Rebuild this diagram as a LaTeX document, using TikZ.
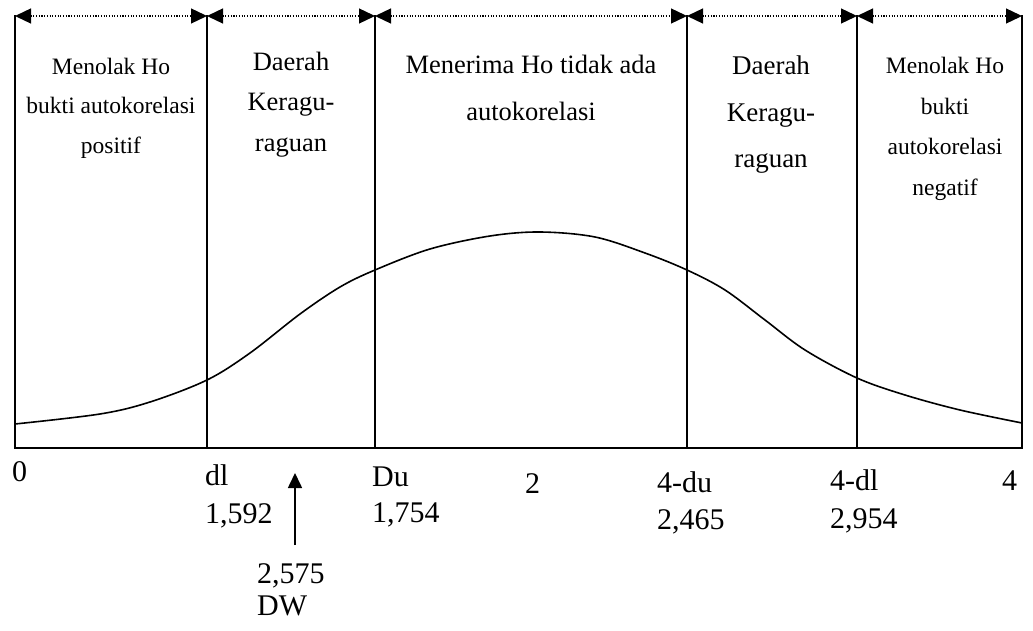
\documentclass[tikz,border=0pt]{standalone}
\usepackage{fontspec}
\setmainfont{Liberation Serif}
\usetikzlibrary{arrows.meta}
\tikzset{
  frame/.style={line width=1.6pt, line cap=rect},
  zone/.style={draw=none, inner sep=0pt, align=center, anchor=north},
  smalltxt/.style={font=\fontsize{23.5}{39.5}\selectfont},
  bigtxt/.style={font=\fontsize{26.5}{40.5}\selectfont},
  axlbl/.style={inner sep=0pt, align=left, font=\fontsize{30}{38}\selectfont},
  span/.style={line width=1.3pt, dash pattern=on 1.1pt off 1.6pt,
    {Triangle[length=16pt,width=15pt]}-{Triangle[length=16pt,width=15pt]}},
  dwarrow/.style={line width=1.6pt, -{Triangle[length=15pt,width=14pt]}},
  bell/.style={line width=1.6pt}
}
\begin{document}
\begin{tikzpicture}[x=1pt,y=-1pt]
\useasboundingbox (0,0) rectangle (1033,631);
% boundary coordinates
\foreach \i/\x in {0/15,1/207,2/375,3/687,4/857,5/1022}{
  \coordinate (t\i) at (\x,16);
  \coordinate (b\i) at (\x,448);
}
% vertical lines and base line
\foreach \i in {0,...,5}{\draw[frame] (t\i) -- (b\i);}
\draw[frame] (b0) -- (b5);
% dotted spans
\draw[span] (t0) -- (t1);
\draw[span] (t1) -- (t2);
\draw[span] (t2) -- (t3);
\draw[span] (t3) -- (t4);
\draw[span] (t4) -- (t5);
% bell curve
\draw[bell] plot[smooth, tension=0.55] coordinates {
 (15,424) (100,414) (150,402) (207,380) (250,353) (300,314) (340,287)
 (375,270) (430,249) (490,236) (540,232) (595,237) (645,253) (687,270)
 (725,290) (765,320) (805,350) (857,378) (905,395) (960,410) (1022,423)};
% zone texts
\node[zone, smalltxt] (z1) at (111,57.5) {Menolak Ho\\bukti autokorelasi\\positif};
\node[zone, bigtxt] (z2) at (291,51.5) {Daerah\\Keragu-\\raguan};
\node[zone, font=\fontsize{26.5}{47}\selectfont] (z3) at (531,54.5) {Menerima Ho tidak ada\\autokorelasi};
\node[zone, font=\fontsize{27}{46.5}\selectfont] (z4) at (771,56) {Daerah\\Keragu-\\raguan};
\node[zone, font=\fontsize{23.5}{40.7}\selectfont] (z5) at (945,57) {Menolak Ho\\bukti\\autokorelasi\\negatif};
% axis labels
\node[axlbl, anchor=base west] (l0) at (12,481) {0};
\node[axlbl, anchor=north west] (l1) at (205,464) {dl\\1,592};
\node[axlbl, anchor=north west, font=\fontsize{30}{36}\selectfont] (l2) at (372,467) {Du\\1,754};
\node[axlbl, anchor=base west] (l3) at (525,493) {2};
\node[axlbl, anchor=north west, font=\fontsize{30}{37}\selectfont] (l4) at (657,471) {4-du\\2,465};
\node[axlbl, anchor=north west] (l5) at (830,469) {4-dl\\2,954};
\node[axlbl, anchor=base west] (l6) at (1002,490) {4};
\node[axlbl, anchor=north west, font=\fontsize{30}{32}\selectfont] (dw) at (257,563) {2,575\\DW};
% DW arrow
\coordinate (dwbase) at (295,545);
\coordinate (dwtip) at (295,473);
\draw[dwarrow] (dwbase) -- (dwtip);
\end{tikzpicture}
\end{document}
